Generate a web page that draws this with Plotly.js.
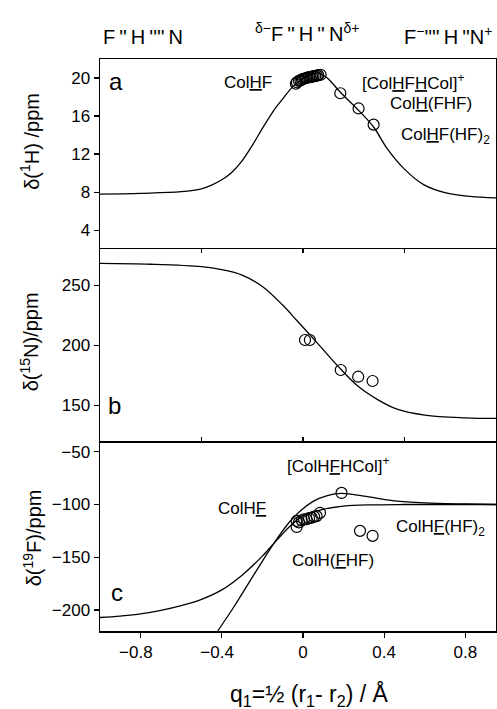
<!DOCTYPE html>
<html><head><meta charset="utf-8">
<script src="https://cdn.plot.ly/plotly-3.0.1.min.js"></script>
<style>html,body{margin:0;padding:0;background:#fff;}#chart{width:497px;height:709px;}</style>
</head><body><div id="chart"></div>
<script>
// ---- data ----
// panel a: delta(1H)
const qCurveH = [-1.0,-0.8,-0.6,-0.5,-0.45,-0.4,-0.35,-0.3,-0.25,-0.2,-0.15,-0.1,-0.05,0.0,0.04,0.08,0.12,0.184,0.274,0.348,0.414,0.496,0.594,0.71,0.824,0.951];
const dCurveH = [7.8,7.88,8.05,8.35,8.75,9.3,10.1,11.3,12.9,14.7,16.4,17.8,19.1,19.95,20.35,20.5,20.0,18.5,16.6,14.85,12.6,10.5,8.8,7.9,7.56,7.4];
const qPtsH = [-0.035,-0.03,-0.02,-0.012,-0.005,0.0,0.008,0.015,0.022,0.03,0.038,0.045,0.052,0.06,0.068,0.075,0.087,0.184,0.274,0.348];
const dPtsH = [19.4,19.55,19.7,19.75,19.85,19.9,19.95,20.0,20.05,20.1,20.1,20.15,20.2,20.2,20.25,20.3,20.34,18.4,16.8,15.1];
// panel b: delta(15N)
const qCurveN = [-1.0,-0.75,-0.5,-0.4,-0.3,-0.2,-0.1,-0.03,0.07,0.17,0.27,0.37,0.46,0.6,0.8,0.951];
const dCurveN = [268.2,267.5,265.5,263,258.5,249,233.5,220.6,202,183,166,154.5,147,141.8,139.5,139];
const qPtsN = [0.01,0.034,0.186,0.272,0.343];
const dPtsN = [204.4,204.4,179.4,173.8,170.2];
// panel c: delta(19F)
const qCurveF1 = [-1.0,-0.9,-0.8,-0.7,-0.6,-0.5,-0.4,-0.3,-0.2,-0.13,-0.05,0.0,0.08,0.2,0.35,0.5,0.7,0.951];
const dCurveF1 = [-207.2,-205.8,-203.8,-200.5,-196,-190,-181,-167,-149,-134,-118,-111,-105.5,-101.5,-100.3,-100,-100,-100];
const qCurveF2 = [-0.42,-0.34,-0.24,-0.13,-0.05,0.05,0.12,0.19,0.3,0.45,0.6,0.8,0.951];
const dCurveF2 = [-220,-197,-166,-133,-113,-97,-91.5,-89.5,-92,-96.5,-98.5,-99.5,-100];
const qPtsF = [-0.031,-0.031,-0.02,-0.006,0.005,0.018,0.03,0.043,0.055,0.067,0.084,0.19,0.281,0.343];
const dPtsF = [-121.3,-115.6,-117,-115,-114,-114,-113,-112.5,-111.5,-111,-107.9,-89,-125,-129.7];
// tick labels
const xTicks = [-0.8,-0.4,0,0.4,0.8];
const xTickText = ['\u22120.8\u2007','\u22120.4\u2007','0','0.4','0.8'];
const yTicksH = [4,8,12,16,20];
const yTicksN = [150,200,250];
const yTicksF = [-200,-150,-100,-50];
const yTickTextF = ['\u2212200','\u2212150','\u2212100','\u221250'];

const FONT = 'Liberation Sans, Arial, sans-serif';
const line = {color:'#000', width:1.3, shape:'spline', smoothing:1};
const mk = {symbol:'circle-open', size:11, color:'#000', line:{width:1.2, color:'#000'}};

const traces = [
  {x:qCurveH, y:dCurveH, xaxis:'x3', yaxis:'y3', mode:'lines', line:line},
  {x:qPtsH, y:dPtsH, xaxis:'x3', yaxis:'y3', mode:'markers', marker:mk},
  {x:qCurveN, y:dCurveN, xaxis:'x2', yaxis:'y2', mode:'lines', line:line},
  {x:qPtsN, y:dPtsN, xaxis:'x2', yaxis:'y2', mode:'markers', marker:mk},
  {x:qCurveF1, y:dCurveF1, xaxis:'x', yaxis:'y', mode:'lines', line:line},
  {x:qCurveF2, y:dCurveF2, xaxis:'x', yaxis:'y', mode:'lines', line:line},
  {x:qPtsF, y:dPtsF, xaxis:'x', yaxis:'y', mode:'markers', marker:mk}
];

const L=100, T=58.7, W=396, H=572;
const px = x => (x-L)/W;
const py = y => 1-(y-T)/H;
const dC=[0,0.3317], dB=[0.3317,0.6674], dA=[0.6674,1];
const xr=[-1,0.951];
const axBase = {showline:true, linecolor:'#000', linewidth:1.5, showgrid:false, zeroline:false, tickcolor:'#000', tickwidth:1.3, tickfont:{family:FONT,size:17,color:'#000'}};

function ann(text,x,y,size,extra){return Object.assign({text:text, x:px(x), y:py(y), xref:'paper', yref:'paper', showarrow:false, xanchor:'center', yanchor:'middle', font:{family:FONT,size:size||17,color:'#000'}},extra||{});}

const layout = {
  width:497, height:709, margin:{l:L, r:1, t:T, b:709-T-H}, showlegend:false,
  paper_bgcolor:'#fff', plot_bgcolor:'#fff',
  xaxis: Object.assign({}, axBase, {range:xr, anchor:'y', mirror:false, ticks:'outside', ticklen:5, tickvals:xTicks, ticktext:xTickText}),
  xaxis2: Object.assign({}, axBase, {range:xr, anchor:'y2', matches:'x', mirror:'ticks', ticks:'inside', ticklen:4, tickvals:[-0.5,0,0.5], showticklabels:false}),
  xaxis3: Object.assign({}, axBase, {range:xr, anchor:'y3', matches:'x', side:'top', mirror:false, ticks:'', showticklabels:false}),
  yaxis: Object.assign({}, axBase, {domain:dC, range:[-220,-40], anchor:'x', mirror:true, ticks:'outside', ticklen:5, tickvals:yTicksF, ticktext:yTickTextF}),
  yaxis2: Object.assign({}, axBase, {domain:dB, range:[120,280], anchor:'x2', mirror:true, ticks:'outside', ticklen:5, tickvals:yTicksN}),
  yaxis3: Object.assign({}, axBase, {domain:dA, range:[2,22], anchor:'x3', mirror:true, ticks:'outside', ticklen:5, tickvals:yTicksH}),
  annotations: [
    // header
    ann("F\u2009''\u2009H\u2009''''\u2009N", 143, 37, 20),
    ann("<sup>\u03B4\u2212</sup>F\u2009''\u2009H\u2009''\u2009N<sup>\u03B4+</sup>", 307, 32, 20),
    ann("F<sup>\u2212</sup>''''\u2009H\u2009''N<sup>+</sup>", 448, 35, 20),
    // axis titles
    ann("\u03B4(<sup>1</sup>H) /ppm", 30, 141.5, 20, {textangle:-90}),
    ann("\u03B4(<sup>15</sup>N)/ppm", 29, 342, 20, {textangle:-90}),
    ann("\u03B4(<sup>19</sup>F)/ppm", 32, 538, 20, {textangle:-90}),
    ann("q<sub>1</sub>=\u00BD (r<sub>1</sub>- r<sub>2</sub>) / \u00C5", 309.5, 695, 23),
    // panel letters
    ann("a", 116, 81, 24),
    ann("b", 114, 405, 24),
    ann("c", 117, 592, 24),
    // panel a labels
    ann("Col<u>H</u>F", 248, 82),
    ann("[Col<u>H</u>F<u>H</u>Col]<sup>+</sup>", 413, 82),
    ann("Col<u>H</u>(FHF)", 431, 103),
    ann("Col<u>H</u>F(HF)<sub>2</sub>", 445, 136),
    // panel c labels
    ann("[ColH<u>F</u>HCol]<sup>+</sup>", 338, 465),
    ann("ColH<u>F</u>", 242, 508),
    ann("ColH(<u>F</u>HF)", 333, 560),
    ann("ColH<u>F</u>(HF)<sub>2</sub>", 440, 528)
  ]
};
Plotly.newPlot('chart', traces, layout, {staticPlot:true, displayModeBar:false});
</script></body></html>
